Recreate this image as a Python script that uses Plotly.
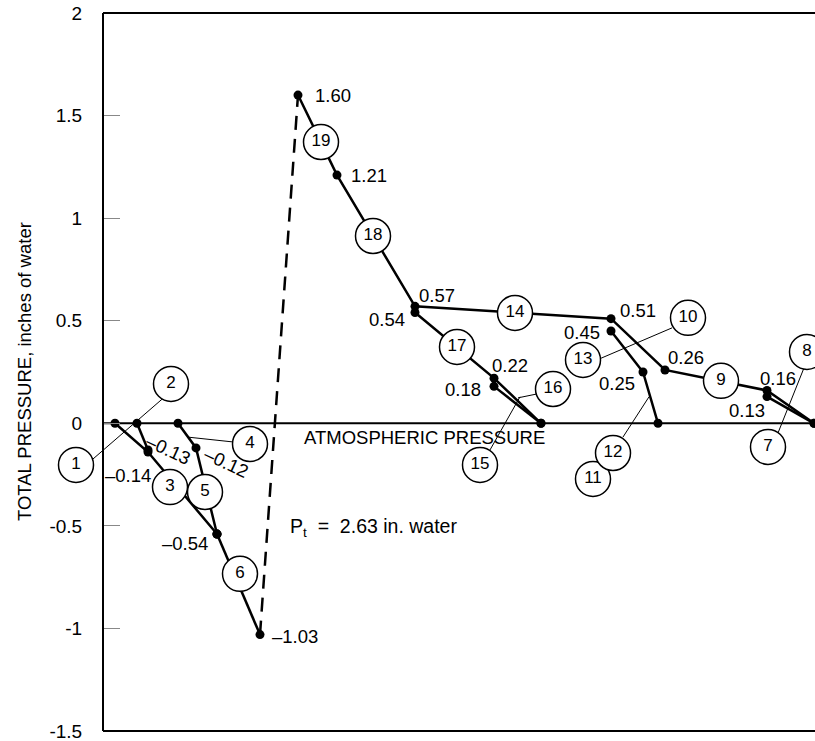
import plotly.graph_objects as go

# ---------------- data (pressure in inches of water) ----------------
# station positions along the system (arbitrary horizontal units)
duct1_x = [12, 45, 114];   duct1_p = [0, -0.14, -0.54]      # sections 1 -> 3
duct2_x = [34, 45];        duct2_p = [0, -0.13]             # section 2
duct4_x = [75, 93, 114];   duct4_p = [0, -0.12, -0.54]      # sections 4 -> 5
duct6_x = [114, 157];      duct6_p = [-0.54, -1.03]         # section 6
fan_x = [157, 195];        fan_p = [-1.03, 1.60]            # fan rise
main_x = [195, 234, 312, 508, 562, 664, 711]
main_p = [1.60, 1.21, 0.57, 0.51, 0.26, 0.16, 0]            # 19,18,14,10,9,8
br17_x = [312, 391, 438];  br17_p = [0.54, 0.22, 0]         # 17,16
br15_x = [391, 438];       br15_p = [0.18, 0]               # 15
br13_x = [508, 540, 555];  br13_p = [0.45, 0.25, 0]         # 13,12
br7_x = [664, 711];        br7_p = [0.13, 0]                # 7

# value labels: (text, station x, pressure)
value_text = ["1.60", "1.21", "0.57", "0.54", "0.22", "0.18", "0.51", "0.45",
              "0.25", "0.26", "0.16", "0.13", "–0.14", "–0.13", "–0.12",
              "–0.54", "–1.03"]
value_x = [195, 234, 312, 312, 391, 391, 508, 508, 540, 562, 664, 664, 45, 45,
           93, 114, 157]
value_p = [1.60, 1.21, 0.57, 0.54, 0.22, 0.18, 0.51, 0.45, 0.25, 0.26, 0.16,
           0.13, -0.14, -0.13, -0.12, -0.54, -1.03]

section_ids = [str(i) for i in range(1, 20)]

yticks = [-1.5, -1, -0.5, 0, 0.5, 1, 1.5, 2]
ytick_text = ["-1.5", "-1", "-0.5", "0", "0.5", "1", "1.5", "2"]

X_MIN, X_MAX = 0, 712          # extent of the plotted system
P_MIN, P_MAX = -1.5, 2

# ---------------- layout helpers ----------------
value_style = [
    (15, 0, "left", 0), (12, 0, "left", 0), (2, 11, "left", 0), (-8, -7, "right", 0),
    (-4, 13, "left", 0), (-11, -3, "right", 0), (7, 8, "left", 0), (-9, -2, "right", 0),
    (-6, -11, "right", 0), (1, 12, "left", 0), (-9, 12, "left", 0), (0, -14, "right", 0),
    (5, -23, "right", 0), (20, 0, "center", 25), (30, -15, "center", 25),
    (-7, -9, "right", 0), (10, -2, "left", 0),
]
section_pos_x = [-27, 68, 67, 147, 102, 137, 665, 704, 618, 585, 490, 510, 480,
                 412, 377, 450, 354, 270, 218]
section_pos_y = [-0.203, 0.192, -0.311, -0.101, -0.335, -0.734, -0.115, 0.348,
                 0.207, 0.514, -0.271, -0.145, 0.309, 0.538, -0.203, 0.167,
                 0.372, 0.913, 1.371]
leaders = [(-10, -0.174, 62, 0.130), (130, -0.091, 84, -0.067),
           (496, 0.313, 569, 0.465), (520, -0.067, 546, 0.129),
           (701, 0.270, 675, -0.047), (387, -0.130, 417, 0.129),
           (434, 0.143, 415, 0.124)]

FONT = "Arial, Liberation Sans, Helvetica, sans-serif"
W, H = 815, 741
LEFT = 103                      # pixel position of the pressure axis

fig = go.Figure()

for x0, y0, x1, y1 in leaders:
    fig.add_trace(go.Scatter(x=[x0, x1], y=[y0, y1], mode="lines",
                             line=dict(color="black", width=1), hoverinfo="skip"))

fig.add_trace(go.Scatter(x=fan_x, y=fan_p, mode="lines",
                         line=dict(color="black", width=2.5, dash="14px,9px"),
                         hoverinfo="skip"))

for xs, ps in [(duct1_x, duct1_p), (duct2_x, duct2_p), (duct4_x, duct4_p),
               (duct6_x, duct6_p), (main_x, main_p), (br17_x, br17_p),
               (br15_x, br15_p), (br13_x, br13_p), (br7_x, br7_p)]:
    fig.add_trace(go.Scatter(x=xs, y=ps, mode="lines+markers",
                             line=dict(color="black", width=2.5),
                             marker=dict(color="black", size=9),
                             cliponaxis=False, hoverinfo="skip"))

fig.add_trace(go.Scatter(x=section_pos_x, y=section_pos_y, mode="markers+text",
                         text=section_ids, textposition="middle center",
                         textfont=dict(family=FONT, size=17, color="black"),
                         marker=dict(symbol="circle", size=35, color="white",
                                     line=dict(color="black", width=1.5)),
                         cliponaxis=False, hoverinfo="skip"))

annotations = []
for t, x, p, (dx, dy, anc, ang) in zip(value_text, value_x, value_p, value_style):
    annotations.append(dict(x=x, y=p, xref="x", yref="y", text=t, showarrow=False,
                            xanchor=anc, yanchor="middle", xshift=dx, yshift=dy,
                            textangle=ang,
                            font=dict(family=FONT, size=18.5, color="black")))

annotations.append(dict(x=444, y=0, xref="x", yref="y", text="ATMOSPHERIC PRESSURE",
                        showarrow=False, xanchor="right", yanchor="middle", yshift=-14,
                        font=dict(family=FONT, size=18.5, color="black")))
annotations.append(dict(x=185, y=-0.51, xref="x", yref="y",
                        text="P<sub>t</sub>  =  2.63 in. water",
                        showarrow=False, xanchor="left", yanchor="middle",
                        font=dict(family=FONT, size=19.5, color="black")))
annotations.append(dict(x=24 / W, y=0.5, xref="paper", yref="paper",
                        text="TOTAL PRESSURE, inches of water", textangle=-90,
                        showarrow=False, xanchor="center", yanchor="middle",
                        font=dict(family=FONT, size=18.5, color="black")))

shapes = [
    # atmospheric-pressure reference line
    dict(type="line", xref="x", yref="y", x0=X_MIN, x1=X_MAX, y0=0, y1=0,
         line=dict(color="black", width=2), layer="below"),
    # top and bottom frame lines
    dict(type="line", xref="x", yref="paper", x0=X_MIN, x1=X_MAX, y0=1, y1=1,
         line=dict(color="black", width=2), layer="above"),
    dict(type="line", xref="x", yref="paper", x0=X_MIN, x1=X_MAX, y0=0, y1=0,
         line=dict(color="black", width=2), layer="above"),
]

fig.update_layout(
    width=W, height=H,
    margin=dict(l=0, r=0, t=13, b=10),
    paper_bgcolor="white", plot_bgcolor="white",
    showlegend=False,
    annotations=annotations,
    shapes=shapes,
    font=dict(family=FONT, color="black"),
    xaxis=dict(domain=[0, 1], range=[X_MIN - LEFT, X_MAX + (W - LEFT - (X_MAX - X_MIN))],
               showticklabels=False, ticks="", showgrid=False, zeroline=False,
               showline=False, fixedrange=True),
    yaxis=dict(range=[P_MIN, P_MAX], anchor="free", position=LEFT / W, side="left",
               tickvals=yticks, ticktext=ytick_text,
               ticks="inside", ticklen=16, tickcolor="#888", tickwidth=1,
               ticklabelstandoff=16, ticklabeloverflow="allow",
               tickfont=dict(family=FONT, size=19, color="black"),
               showgrid=False, showline=True, linecolor="black", linewidth=2,
               zeroline=False, fixedrange=True),
)

fig.write_html("out.html", config={"displayModeBar": False},
               post_script="document.body.style.margin='0';")
